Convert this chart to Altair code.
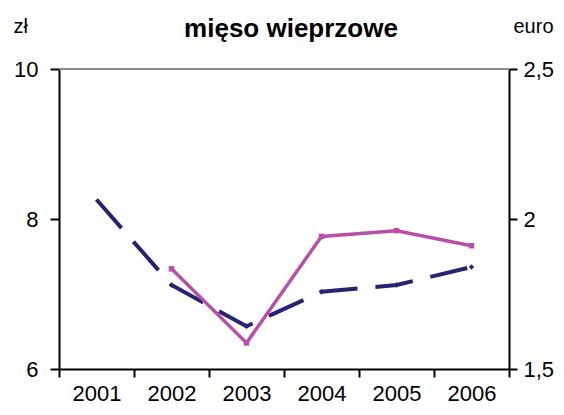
import altair as alt
import pandas as pd

years = [2001, 2002, 2003, 2004, 2005, 2006]
pln = [8.26, 7.12, 6.57, 7.03, 7.12, 7.36]
eur_years = [2002, 2003, 2004, 2005, 2006]
eur = [1.834, 1.587, 1.942, 1.961, 1.911]
title_text = ["mięso wieprzowe"]

NAVY = "#262471"
MAGENTA = "#b94fa6"
FONT = "Liberation Sans"

df_pln = pd.DataFrame({"rok": years, "zl": pln})
df_eur = pd.DataFrame({"rok": eur_years, "euro": eur})
df_top = pd.DataFrame({"v": [10]})
df_title = pd.DataFrame({"t": title_text})

x_scale = alt.Scale(domain=[2000.5, 2006.5], nice=False, zero=False)
x_axis = alt.Axis(
    values=[2000.5, 2001.5, 2002.5, 2003.5, 2004.5, 2005.5, 2006.5],
    labelExpr="datum.value < 2006 ? toString(datum.value + 0.5) : ''",
    labelOffset=37.5, title=None, grid=False, tickSize=8, tickWidth=2,
    tickColor="black", domainColor="black", domainWidth=2,
    labelFont=FONT, labelFontSize=22, labelColor="black", labelPadding=6,
    labelFlush=False, labelOverlap=False, labelBound=False,
)

yl_scale = alt.Scale(domain=[6, 10], nice=False, zero=False)
yl_axis = alt.Axis(
    orient="left", values=[6, 8, 10], title="zł", titleAngle=0,
    titleAlign="left", titleBaseline="alphabetic", titleX=-46, titleY=-37,
    titleFont=FONT, titleFontSize=20, titleFontWeight="normal", titleColor="black",
    grid=False, tickSize=9, tickWidth=2, tickColor="black",
    domainColor="black", domainWidth=2, labelFont=FONT, labelFontSize=22,
    labelColor="black", labelPadding=12, labelFlush=False,
)
yr_scale = alt.Scale(domain=[1.5, 2.5], nice=False, zero=False)
yr_axis = alt.Axis(
    orient="right", values=[1.5, 2, 2.5], title="euro", titleAngle=0,
    titleAlign="left", titleBaseline="alphabetic", titleX=4, titleY=-37,
    titleFont=FONT, titleFontSize=20, titleFontWeight="normal", titleColor="black",
    labelExpr="replace(format(datum.value, '.1~f'), '.', ',')",
    grid=False, tickSize=8, tickWidth=2, tickColor="black",
    domainColor="black", domainWidth=2, labelFont=FONT, labelFontSize=22,
    labelColor="black", labelPadding=6, labelFlush=False,
)

title_mark = alt.Chart(df_title).mark_text(
    font=FONT, fontSize=26, fontWeight="bold", color="black",
    align="center", baseline="alphabetic",
).encode(text="t:N", x=alt.value(232), y=alt.value(-32))

top_rule = alt.Chart(df_top).mark_rule(color="#8c8c8c", strokeWidth=2).encode(
    y=alt.Y("v:Q", scale=yl_scale, axis=yl_axis)
)
navy_line = alt.Chart(df_pln).mark_line(
    color=NAVY, strokeWidth=4, strokeDash=[38, 18]
).encode(
    x=alt.X("rok:Q", scale=x_scale, axis=x_axis),
    y=alt.Y("zl:Q", scale=yl_scale, axis=yl_axis),
)
navy_pts = alt.Chart(df_pln[df_pln.rok > 2001]).mark_point(
    shape="diamond", filled=True, color=NAVY, size=30, opacity=1
).encode(
    x=alt.X("rok:Q", scale=x_scale, axis=x_axis),
    y=alt.Y("zl:Q", scale=yl_scale, axis=yl_axis),
)
left = alt.layer(top_rule, navy_line, navy_pts, title_mark)

mag_line = alt.Chart(df_eur).mark_line(color=MAGENTA, strokeWidth=3.5).encode(
    x=alt.X("rok:Q", scale=x_scale, axis=x_axis),
    y=alt.Y("euro:Q", scale=yr_scale, axis=yr_axis),
)
mag_pts = alt.Chart(df_eur).mark_point(
    shape="square", filled=True, color=MAGENTA, size=30, opacity=1
).encode(
    x=alt.X("rok:Q", scale=x_scale, axis=x_axis),
    y=alt.Y("euro:Q", scale=yr_scale, axis=yr_axis),
)
right = alt.layer(mag_line, mag_pts)

chart = alt.layer(left, right).resolve_scale(y="independent").properties(
    width=450, height=300,
    autosize=alt.AutoSizeParams(type="none"),
    padding={"left": 51, "top": 61, "right": 47, "bottom": 38},
).configure_view(stroke=None).configure(background="white")

chart.save("out.html", embed_options={"renderer": "svg", "actions": False})
